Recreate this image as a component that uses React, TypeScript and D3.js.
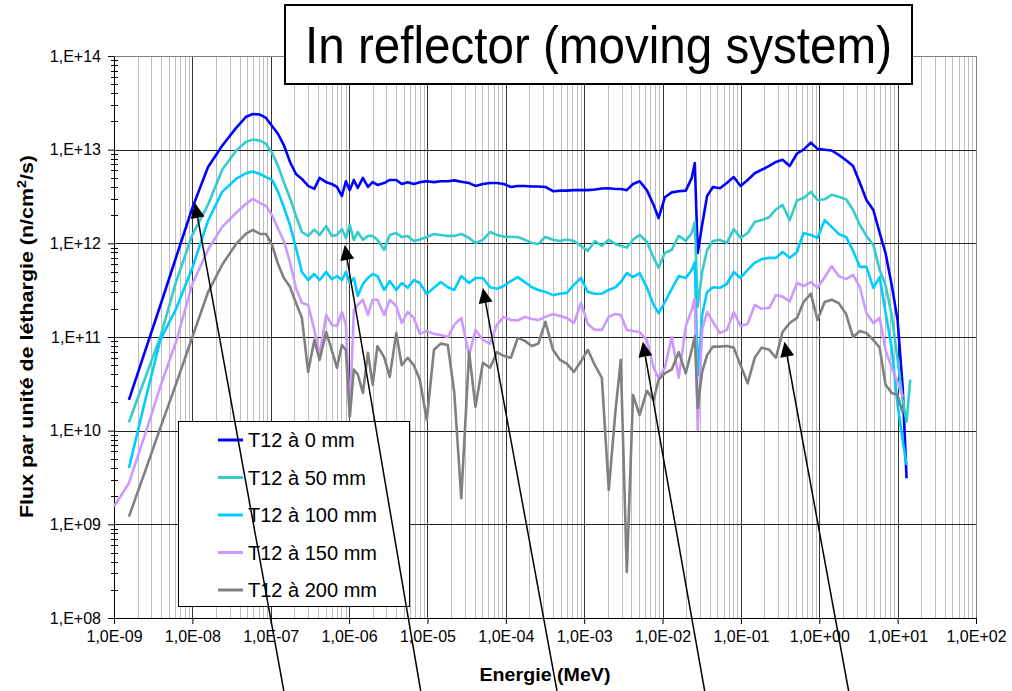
import React, { useEffect, useRef } from 'react';
import * as d3 from 'd3';

// Energy grid (MeV), shared by all five series
const energy = [
  1.0e-9, 1.55e-9, 2.5e-9, 3.9e-9, 6.2e-9, 1.0e-8, 1.58e-8, 2.4e-8, 3.6e-8, 4.8e-8,
  5.9e-8, 7.3e-8, 8.7e-8, 1.04e-7, 1.24e-7, 1.47e-7, 1.76e-7, 2.1e-7, 2.5e-7, 3.0e-7,
  3.6e-7, 4.2e-7, 5.1e-7, 6.0e-7, 7.0e-7, 8.1e-7, 9.1e-7, 1.02e-6, 1.15e-6, 1.29e-6,
  1.5e-6, 1.74e-6, 2.0e-6, 2.3e-6, 2.8e-6, 3.3e-6, 4.0e-6, 4.7e-6, 5.6e-6, 6.7e-6,
  8.0e-6, 9.8e-6, 1.21e-5, 1.48e-5, 1.82e-5, 2.2e-5, 2.7e-5, 3.4e-5, 4.1e-5, 5.1e-5,
  6.3e-5, 7.7e-5, 9.4e-5, 1.16e-4, 1.42e-4, 1.75e-4, 2.15e-4, 2.6e-4, 3.2e-4, 4.0e-4,
  4.9e-4, 6.0e-4, 7.4e-4, 9.1e-4, 1.11e-3, 1.37e-3, 1.68e-3, 2.06e-3, 2.5e-3, 2.93e-3,
  3.5e-3, 4.2e-3, 5.1e-3, 6.3e-3, 7.7e-3, 8.9e-3, 1.07e-2, 1.31e-2, 1.61e-2, 1.98e-2,
  2.36e-2, 2.58e-2, 2.81e-2, 3.2e-2, 3.7e-2, 4.4e-2, 5.4e-2, 6.6e-2, 8.1e-2, 9.9e-2,
  1.22e-1, 1.5e-1, 1.84e-1, 2.3e-1, 2.8e-1, 3.4e-1, 4.2e-1, 5.2e-1, 6.3e-1, 7.8e-1,
  9.5e-1, 1.17, 1.44, 1.77, 2.2, 2.7, 3.3, 4.0, 4.9, 5.9,
  7.0, 8.4, 10, 11.6, 13.0, 14.5,
];

// Flux par unité de léthargie (n/cm2/s)
const flux0 = [
  null, 2.13e10, 7.1e10, 2.17e11, 7.1e11, 2.39e12, 6.5e12, 1.1e13, 1.7e13, 2.23e13,
  2.4e13, 2.37e13, 2.18e13, 1.79e13, 1.47e13, 1.12e13, 7.4e12, 5.5e12, 4.87e12, 4.1e12,
  3.81e12, 5.0e12, 4.5e12, 4.3e12, 4.0e12, 3.2e12, 4.6e12, 3.7e12, 4.75e12, 3.9e12,
  5.0e12, 4.0e12, 4.5e12, 4.2e12, 4.4e12, 4.75e12, 4.75e12, 4.3e12, 4.5e12, 4.3e12,
  4.5e12, 4.6e12, 4.5e12, 4.6e12, 4.6e12, 4.7e12, 4.55e12, 4.4e12, 4.1e12, 4.3e12,
  4.4e12, 4.4e12, 4.3e12, 4.0e12, 4.1e12, 4.1e12, 4.05e12, 4.05e12, 4.0e12, 3.6e12,
  3.65e12, 3.65e12, 3.7e12, 3.7e12, 3.7e12, 3.75e12, 3.85e12, 3.87e12, 3.8e12, 3.8e12,
  3.7e12, 4.3e12, 4.6e12, 3.7e12, 2.57e12, 1.86e12, 3.1e12, 3.5e12, 3.6e12, 3.65e12,
  5.0e12, 7.2e12, 7.9e11, 1.57e12, 3.2e12, 4.0e12, 3.87e12, 4.4e12, 5.1e12, 4.1e12,
  4.75e12, 5.6e12, 6.1e12, 6.7e12, 7.4e12, 7.8e12, 6.7e12, 9.1e12, 1.0e13, 1.19e13,
  1.02e13, 1.0e13, 9.8e12, 8.8e12, 7.7e12, 6.7e12, 4.4e12, 2.9e12, 2.27e12, 1.29e12,
  7.9e11, 3.6e11, 1.5e11, 2.9e10, 3.1e9, null,
];

const flux50 = [
  null, 1.23e10, 3.66e10, 1.0e11, 3.9e11, 1.23e12, 2.57e12, 6.1e12, 9.7e12, 1.21e13,
  1.28e13, 1.25e13, 1.15e13, 9.2e12, 6.7e12, 4.5e12, 3.05e12, 1.96e12, 1.32e12, 1.2e12,
  1.4e12, 1.23e12, 1.53e12, 1.2e12, 1.23e12, 1.42e12, 1.14e12, 1.57e12, 1.09e12, 1.32e12,
  1.09e12, 1.2e12, 1.2e12, 1.09e12, 8.5e11, 1.23e12, 1.29e12, 1.17e12, 1.2e12, 1.06e12,
  1.1e12, 1.17e12, 1.26e12, 1.23e12, 1.2e12, 1.2e12, 1.26e12, 1.14e12, 1.01e12, 1.09e12,
  1.32e12, 1.23e12, 1.18e12, 1.17e12, 1.17e12, 1.09e12, 1.01e12, 9.85e11, 1.17e12, 1.09e12,
  1.06e12, 1.1e12, 1.06e12, 9.4e11, 8.3e11, 1.06e12, 9.4e11, 1.09e12, 9.85e11, 9.4e11,
  9.0e11, 1.09e12, 1.23e12, 1.04e12, 7.0e11, 5.5e11, 7.9e11, 8.5e11, 1.2e12, 1.06e12,
  1.29e12, 1.69e12, 2.1e11, 4.95e11, 8.5e11, 1.06e12, 1.09e12, 1.01e12, 1.42e12, 1.14e12,
  1.29e12, 1.69e12, 1.77e12, 1.9e12, 2.3e12, 2.57e12, 1.77e12, 2.87e12, 3.05e12, 3.54e12,
  2.9e12, 2.95e12, 3.3e12, 3.15e12, 2.95e12, 2.27e12, 1.57e12, 1.2e12, 9.6e11, 5.2e11,
  3.6e11, 1.72e11, 5.7e10, 2.13e10, 1.24e10, 3.5e10,
];

const flux100 = [
  null, 4.0e9, 2.1e10, 9.3e10, 2.0e11, 5.5e11, 1.73e12, 3.54e12, 4.87e12, 5.6e12,
  5.85e12, 5.5e12, 5.1e12, 4.75e12, 3.54e12, 2.44e12, 1.57e12, 8.9e11, 4.95e11, 4.06e11,
  4.7e11, 4.06e11, 4.95e11, 4.15e11, 4.47e11, 4.06e11, 4.95e11, 3.77e11, 4.27e11, 2.74e11,
  3.68e11, 4.27e11, 4.7e11, 4.47e11, 3.18e11, 3.96e11, 3.18e11, 3.77e11, 3.35e11, 4.06e11,
  3.77e11, 2.88e11, 3.35e11, 3.86e11, 3.4e11, 3.18e11, 4.47e11, 3.77e11, 4.27e11, 4.27e11,
  3.4e11, 3.27e11, 3.5e11, 3.96e11, 4.35e11, 3.86e11, 3.4e11, 3.18e11, 3.03e11, 2.8e11,
  2.9e11, 2.96e11, 3.6e11, 4.27e11, 3.03e11, 2.9e11, 2.9e11, 3.18e11, 3.4e11, 3.86e11,
  4.8e11, 4.35e11, 4.8e11, 3.4e11, 2.2e11, 1.8e11, 2.36e11, 3.27e11, 4.47e11, 4.27e11,
  5.2e11, 6.3e11, 3.9e10, 1.72e11, 3.03e11, 3.4e11, 3.35e11, 3.68e11, 4.95e11, 4.27e11,
  5.2e11, 6.2e11, 6.8e11, 7.0e11, 7.0e11, 8.1e11, 7.0e11, 8.1e11, 1.29e12, 1.23e12,
  1.14e12, 1.77e12, 1.5e12, 1.26e12, 1.17e12, 8.3e11, 5.6e11, 5.6e11, 3.35e11, 4.35e11,
  1.85e11, 7.65e10, 1.88e10, 7.9e9, 4.3e9, null,
];

const flux150 = [
  1.55e9, 2.75e9, 9.2e9, 2.96e10, 8.9e10, 3.68e11, 8.5e11, 1.5e12, 2.11e12, 2.63e12,
  2.98e12, 2.7e12, 2.5e12, 2.0e12, 1.43e12, 1.06e12, 6.3e11, 3.33e11, 2.31e11, 2.2e11,
  1.19e11, 6.4e10, 1.72e11, 1.35e11, 1.31e11, 1.85e11, 1.35e11, 1.44e10, 1.95e11, 2.2e11,
  2.5e11, 1.72e11, 2.5e11, 2.5e11, 1.72e11, 2.5e11, 2.14e11, 1.41e11, 1.85e11, 1.6e11,
  1.08e11, 1.16e11, 1.08e11, 1.05e11, 1.0e11, 1.35e11, 1.6e11, 6.4e10, 1.19e11, 9.3e10,
  8.5e10, 1.35e11, 1.64e11, 1.52e11, 1.5e11, 1.64e11, 1.56e11, 1.52e11, 1.64e11, 1.76e11,
  1.68e11, 1.6e11, 1.41e11, 2.31e11, 1.38e11, 1.19e11, 1.19e11, 1.64e11, 1.76e11, 1.72e11,
  1.19e11, 1.16e11, 1.13e11, 9.3e10, 4.7e10, 3.66e10, 4.7e10, 1.0e11, 3.66e10, 1.31e11,
  1.95e11, 2.6e11, 1.02e10, 1.19e11, 1.85e11, 1.45e11, 1.1e11, 1.19e11, 1.85e11, 1.31e11,
  1.38e11, 2.2e11, 2.0e11, 2.05e11, 2.8e11, 2.7e11, 2.4e11, 3.77e11, 3.5e11, 3.86e11,
  3.35e11, 4.35e11, 5.7e11, 4.47e11, 4.15e11, 4.6e11, 3.4e11, 1.8e11, 1.41e11, 1.6e11,
  7.3e10, 4.7e10, 3.3e10, 2.3e10, null, null,
];

const flux200 = [
  null, 1.21e9, 3.7e9, 1.07e10, 3.16e10, 1.0e11, 3.0e11, 5.9e11, 9.8e11, 1.26e12,
  1.39e12, 1.26e12, 1.26e12, 9.6e11, 6.0e11, 4.26e11, 3.43e11, 2.31e11, 1.6e11, 4.24e10,
  9.3e10, 5.7e10, 1.13e11, 7.3e10, 4.7e10, 8.2e10, 7.3e10, 1.4e10, 4.5e10, 4.0e10,
  2.53e10, 6.8e10, 3.1e10, 8.0e10, 6.1e10, 3.75e10, 1.1e11, 5.0e10, 6.0e10, 5.0e10,
  3.5e10, 1.3e10, 7.3e10, 8.5e10, 8.2e10, 2.53e10, 1.9e9, 6.9e10, 1.8e10, 5.3e10,
  4.7e10, 6.9e10, 6.3e10, 6.0e10, 9.8e10, 9.1e10, 8.0e10, 8.5e10, 1.45e11, 7.3e10,
  5.7e10, 5.2e10, 4.24e10, 5.5e10, 7.3e10, 5.0e10, 3.66e10, 2.33e9, 1.58e10, 5.7e10,
  3.1e8, 2.4e10, 1.47e10, 2.66e10, 2.13e10, 3.5e10, 4.1e10, 4.5e10, 6.9e10, 4.1e10,
  7.3e10, 1.02e11, 1.75e10, 4.24e10, 6.4e10, 7.9e10, 7.9e10, 8.0e10, 7.7e10, 5.0e10,
  3.2e10, 6.0e10, 7.7e10, 7.3e10, 6.0e10, 1.13e11, 1.41e11, 1.6e11, 2.36e11, 2.9e11,
  1.52e11, 2.36e11, 2.5e11, 2.3e11, 1.76e11, 1.0e11, 1.16e11, 1.1e11, 9.3e10, 7.7e10,
  3.1e10, 2.53e10, 2.4e10, 1.55e10, null, null,
];

const seriesNames = ['T12 à 0 mm', 'T12 à 50 mm', 'T12 à 100 mm', 'T12 à 150 mm', 'T12 à 200 mm'];
const seriesColors = ['#0000FF', '#33CCCC', '#00CCFF', '#CC99FF', '#808080'];

const xTickLabels = ['1,0E-09', '1,0E-08', '1,0E-07', '1,0E-06', '1,0E-05', '1,0E-04',
  '1,0E-03', '1,0E-02', '1,0E-01', '1,0E+00', '1,0E+01', '1,0E+02'];
const yTickLabels = ['1,E+08', '1,E+09', '1,E+10', '1,E+11', '1,E+12', '1,E+13', '1,E+14'];

// annotation arrows: tip (energy, flux), tail energy at the bottom edge of the picture
const arrowTipEnergy = [1.08e-8, 8.8e-7, 5.1e-5, 5.6e-3, 0.36];
const arrowTipFlux = [2.7e12, 9.6e11, 3.34e11, 8.9e10, 8.9e10];
const arrowTailEnergy = [1.47e-7, 8.2e-6, 4.5e-4, 3.45e-2, 2.37];

const font = '"Liberation Sans", Arial, Helvetica, sans-serif';

export default function App() {
  const ref = useRef<SVGSVGElement>(null);

  useEffect(() => {
    const width = 1012;
    const height = 691;
    const margin = { top: 56, right: 36, bottom: 73, left: 114 };
    const left = margin.left;
    const right = width - margin.right;
    const top = margin.top;
    const bottom = height - margin.bottom;

    const svg = d3.select(ref.current);
    svg.selectAll('*').remove();

    svg.append('rect').attr('width', width).attr('height', height).attr('fill', '#fff');

    const x = d3.scaleLog().domain([1e-9, 1e2]).range([left, right]);
    const y = d3.scaleLog().domain([1e8, 1e14]).range([bottom, top]);

    const xDecades = d3.range(-9, 3).map((p) => Math.pow(10, p));
    const yDecades = d3.range(8, 15).map((p) => Math.pow(10, p));
    const xMinors: number[] = [];
    xDecades.slice(0, -1).forEach((d) => { for (let k = 2; k <= 9; k++) xMinors.push(d * k); });
    const yMinors: number[] = [];
    yDecades.slice(0, -1).forEach((d) => { for (let k = 2; k <= 9; k++) yMinors.push(d * k); });

    const px = (v: number) => Math.round(v) + 0.5;

    // grid
    const grid = svg.append('g').attr('shape-rendering', 'crispEdges');
    grid.selectAll('line.minor').data(xMinors).enter().append('line')
      .attr('class', 'minor')
      .attr('x1', (d) => px(x(d))).attr('x2', (d) => px(x(d)))
      .attr('y1', top).attr('y2', bottom)
      .attr('stroke', '#BDBDBD');
    grid.selectAll('line.vmajor').data(xDecades.slice(1, -1)).enter().append('line')
      .attr('class', 'vmajor')
      .attr('x1', (d) => px(x(d))).attr('x2', (d) => px(x(d)))
      .attr('y1', top).attr('y2', bottom)
      .attr('stroke', '#333');
    grid.selectAll('line.hmajor').data(yDecades.slice(1, -1)).enter().append('line')
      .attr('class', 'hmajor')
      .attr('x1', left).attr('x2', right)
      .attr('y1', (d) => px(y(d))).attr('y2', (d) => px(y(d)))
      .attr('stroke', '#222');

    // frame (top / right)
    grid.append('line').attr('x1', left).attr('x2', right).attr('y1', px(top)).attr('y2', px(top)).attr('stroke', '#808080');
    grid.append('line').attr('x1', px(right)).attr('x2', px(right)).attr('y1', top).attr('y2', bottom).attr('stroke', '#808080');

    // axes
    const xAxis = d3.axisBottom(x)
      .tickValues(xDecades)
      .tickFormat((d, i) => xTickLabels[i])
      .tickSize(6)
      .tickSizeOuter(0)
      .tickPadding(7);
    svg.append('g')
      .attr('transform', 'translate(0,' + Math.round(bottom) + ')')
      .call(xAxis)
      .attr('font-size', 16)
      .attr('font-family', font)
      .call((g) => g.selectAll('text').attr('fill', '#000'));

    const yAxis = d3.axisLeft(y)
      .tickValues(yDecades)
      .tickFormat((d, i) => yTickLabels[i])
      .tickSize(6)
      .tickSizeOuter(0)
      .tickPadding(7);
    svg.append('g')
      .attr('transform', 'translate(' + Math.round(left) + ',0)')
      .call(yAxis)
      .attr('font-size', 16)
      .attr('font-family', font)
      .call((g) => g.selectAll('text').attr('fill', '#000'));

    // minor ticks crossing the y axis
    svg.append('g').attr('shape-rendering', 'crispEdges')
      .selectAll('line').data(yMinors).enter().append('line')
      .attr('x1', left - 3).attr('x2', left + 4)
      .attr('y1', (d) => px(y(d))).attr('y2', (d) => px(y(d)))
      .attr('stroke', '#000');

    // series
    const allSeries = [flux0, flux50, flux100, flux150, flux200];
    const line = d3.line<number | null>()
      .defined((d) => d != null)
      .x((d, i) => x(energy[i]))
      .y((d) => y(d as number));

    svg.append('g').selectAll('path').data(allSeries).enter().append('path')
      .attr('d', (d) => line(d))
      .attr('fill', 'none')
      .attr('stroke', (d, i) => seriesColors[i])
      .attr('stroke-width', 2.6)
      .attr('stroke-linejoin', 'round');

    // legend
    const legend = svg.append('g').attr('font-family', font).attr('font-size', 20);
    legend.append('rect')
      .attr('x', 178.5).attr('y', 421.5).attr('width', 231).attr('height', 185)
      .attr('fill', '#fff').attr('stroke', '#000');
    seriesNames.forEach((name, i) => {
      const cy = 440 + i * 37.5;
      legend.append('line')
        .attr('x1', 218).attr('x2', 243).attr('y1', cy).attr('y2', cy)
        .attr('stroke', seriesColors[i]).attr('stroke-width', 3);
      legend.append('text')
        .attr('x', 248).attr('y', cy).attr('dy', '0.36em')
        .text(name);
    });

    // axis titles
    const yTitle = svg.append('text')
      .attr('transform', 'translate(33,336.5) rotate(-90)')
      .attr('text-anchor', 'middle')
      .attr('font-family', font)
      .attr('font-weight', 'bold')
      .attr('font-size', 18)
      .attr('textLength', 363)
      .attr('lengthAdjust', 'spacingAndGlyphs');
    yTitle.append('tspan').text('Flux par unité de léthargie (n/cm');
    yTitle.append('tspan').attr('dy', -7).attr('font-size', 12).text('2');
    yTitle.append('tspan').attr('dy', 7).text('/s)');

    svg.append('text')
      .attr('x', (left + right) / 2).attr('y', 681)
      .attr('text-anchor', 'middle')
      .attr('font-family', font)
      .attr('font-weight', 'bold')
      .attr('font-size', 18)
      .attr('textLength', 131)
      .attr('lengthAdjust', 'spacingAndGlyphs')
      .text('Energie (MeV)');

    // title box
    svg.append('rect')
      .attr('x', 285).attr('y', 5).attr('width', 627).attr('height', 79)
      .attr('fill', '#fff').attr('stroke', '#000').attr('stroke-width', 2);
    svg.append('text')
      .attr('x', 598.5).attr('y', 63)
      .attr('text-anchor', 'middle')
      .attr('font-family', font)
      .attr('font-size', 52)
      .attr('textLength', 587)
      .attr('lengthAdjust', 'spacingAndGlyphs')
      .text('In reflector (moving system)');

    // arrows
    const arrows = svg.append('g');
    arrowTipEnergy.forEach((e, i) => {
      const tx = x(e);
      const ty = y(arrowTipFlux[i]);
      const sx = x(arrowTailEnergy[i]);
      const sy = height;
      const len = Math.hypot(tx - sx, ty - sy);
      const ux = (tx - sx) / len;
      const uy = (ty - sy) / len;
      const headLen = 15;
      const headHalf = 7;
      const bx = tx - ux * headLen;
      const by = ty - uy * headLen;
      arrows.append('line')
        .attr('x1', sx).attr('y1', sy).attr('x2', bx).attr('y2', by)
        .attr('stroke', '#000').attr('stroke-width', 1.5);
      const head = d3.path();
      head.moveTo(tx, ty);
      head.lineTo(bx - uy * headHalf, by + ux * headHalf);
      head.lineTo(bx + uy * headHalf, by - ux * headHalf);
      head.closePath();
      arrows.append('path').attr('d', head.toString()).attr('fill', '#000');
    });
  }, []);

  return (
    <div style={{ position: 'absolute', left: 0, top: 0 }}>
      <svg ref={ref} width={1012} height={691} style={{ display: 'block' }} />
    </div>
  );
}
